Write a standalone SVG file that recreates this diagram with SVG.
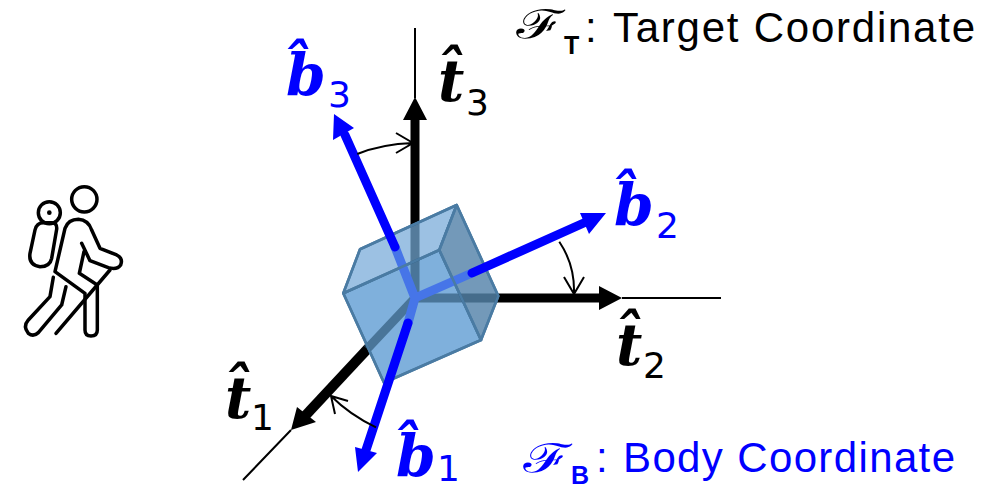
<svg xmlns="http://www.w3.org/2000/svg" width="993" height="490" viewBox="0 0 993 490">
<style>
.thin{fill:none;stroke:#000;stroke-width:2}
.k{stroke:#000;stroke-width:9;fill:none}
.b{stroke:#0000ff;stroke-width:9;fill:none;stroke-linecap:round}
.bi{stroke:#4675e8;stroke-width:9;fill:none;stroke-linecap:round}
.face{stroke:#4a7ba3;stroke-width:2.6;stroke-linejoin:round}
.hk{fill:none;stroke:#000;stroke-width:10.500;stroke-linecap:round;stroke-linejoin:round}
.v{font-family:"DejaVu Serif",serif;font-weight:bold;font-style:italic;font-size:57px}
.s{font-family:"DejaVu Sans",sans-serif;font-weight:normal;font-style:normal;font-size:36px}
.l{font-family:"Liberation Sans",sans-serif;font-size:42px}
.f{font-family:"DejaVu Serif","Noto Sans",serif;font-style:italic;font-size:40px}
.u{font-family:"Liberation Sans",sans-serif;font-weight:bold;font-size:25px}
</style>
<g id="connectors">
<g id="target-axes">
<path class="thin" d="M415 28V98M622 298H721M291 430L243 480"/>
<path class="k" d="M415 298V115M415 298H602"/>
<path class="k" style="stroke-width:10" d="M415 298L305 416"/>
<path d="M415 97L427 120H403ZM622 298L599 310V286ZM291 430L297 407L316 422Z"/>
</g>
</g>
<g id="cube">
<path class="face" fill="#7fb0dc" d="M343.300 293.300L439.300 250L481 340L384 382.700Z"/>
<path class="face" fill="#9cc1e3" d="M360 249.300L456.700 205L439.300 250L343.300 293.300Z"/>
<path class="face" fill="#7399b9" d="M456.700 205L498.300 296L481 340L439.300 250Z"/>
<path d="M415 224V298M415 298H498M415 298L367 349" fill="none" stroke="#28506f" stroke-width="9" stroke-opacity=".62"/>
<path class="bi" d="M415 298L395 247M415 298L472 273M415 298L408 323"/>
<path class="face" fill="none" d="M343.300 293.300L439.300 250L481 340L384 382.700ZM360 249.300L456.700 205L498.300 296L481 340M343.300 293.300L360 249.300M439.300 250L456.700 205"/>
</g>
<g id="body-axes">
<path class="b" d="M395 247L345 135M472 273L586 222M408 323L366 450"/>
<path fill="#0000ff" d="M334 114L354 128L333 140ZM606 213L580 213L589 234ZM358 472L355 447L377 453Z"/>
</g>
<g id="angles">
<path class="thin" d="M357.300 154Q382 144 413 143M396 133L413 143L396 153"/>
<path class="thin" d="M559.300 241.700Q575 265 574 294M564 277L574 294L584 277"/>
<path class="thin" d="M376 427.300Q350 415 331 396M348 401L331 396L335 414"/>
</g>
<g id="hiker" transform="translate(10 170) scale(.3333)">
<circle class="hk" cx="223" cy="88" r="38"/>
<circle class="hk" cx="118" cy="128" r="33"/>
<circle cx="118" cy="128" r="7"/>
<path class="hk" d="M100 158H125Q142 158 140 178L125 265Q120 290 90 290Q55 285 60 250L75 180Q80 158 100 158Z"/>
<path class="hk" d="M215 220L240 272L295 293Q322 300 332 285Q340 265 320 255L270 235L245 180Q235 150 205 148Q175 148 165 175L135 305L225 370V480Q225 498 243 498Q262 498 262 480V345L208 310L222 245"/>
<path class="hk" d="M300 300L138 490"/>
<path class="hk" d="M130 322L120 380L55 450Q38 470 55 490Q70 502 85 488L155 405L168 350"/>
</g>
<g id="labels">
<text id="label-b3" class="v" x="286" y="95" fill="#0000ff">b̂<tspan class="s" x="328" y="107">3</tspan></text>
<text id="label-t3" class="v" x="438" y="101">t̂<tspan class="s" x="466" y="115">3</tspan></text>
<text id="label-b2" class="v" x="614" y="225" fill="#0000ff">b̂<tspan class="s" x="656" y="238">2</tspan></text>
<text id="label-t2" class="v" x="616" y="365">t̂<tspan class="s" x="643" y="378">2</tspan></text>
<text id="label-t1" class="v" x="225" y="418">t̂<tspan class="s" x="251" y="430">1</tspan></text>
<text id="label-b1" class="v" x="396" y="476" fill="#0000ff">b̂<tspan class="s" x="437" y="481">1</tspan></text>
<g id="legend-target">
<text class="f" transform="translate(515 38) scale(1.45 1)">ℱ</text><text class="u" x="564" y="54">T</text>
<text class="l" x="585" y="42">:</text>
<text class="l" x="613" y="42" textLength="362">Target Coordinate</text>
</g>
<g id="legend-body" fill="#0000ff">
<text class="f" transform="translate(522 472) scale(1.45 1)">ℱ</text><text class="u" x="571" y="484">B</text>
<text class="l" x="596" y="472">:</text>
<text class="l" x="623" y="472" textLength="332">Body Coordinate</text>
</g>
</g>
</svg>
